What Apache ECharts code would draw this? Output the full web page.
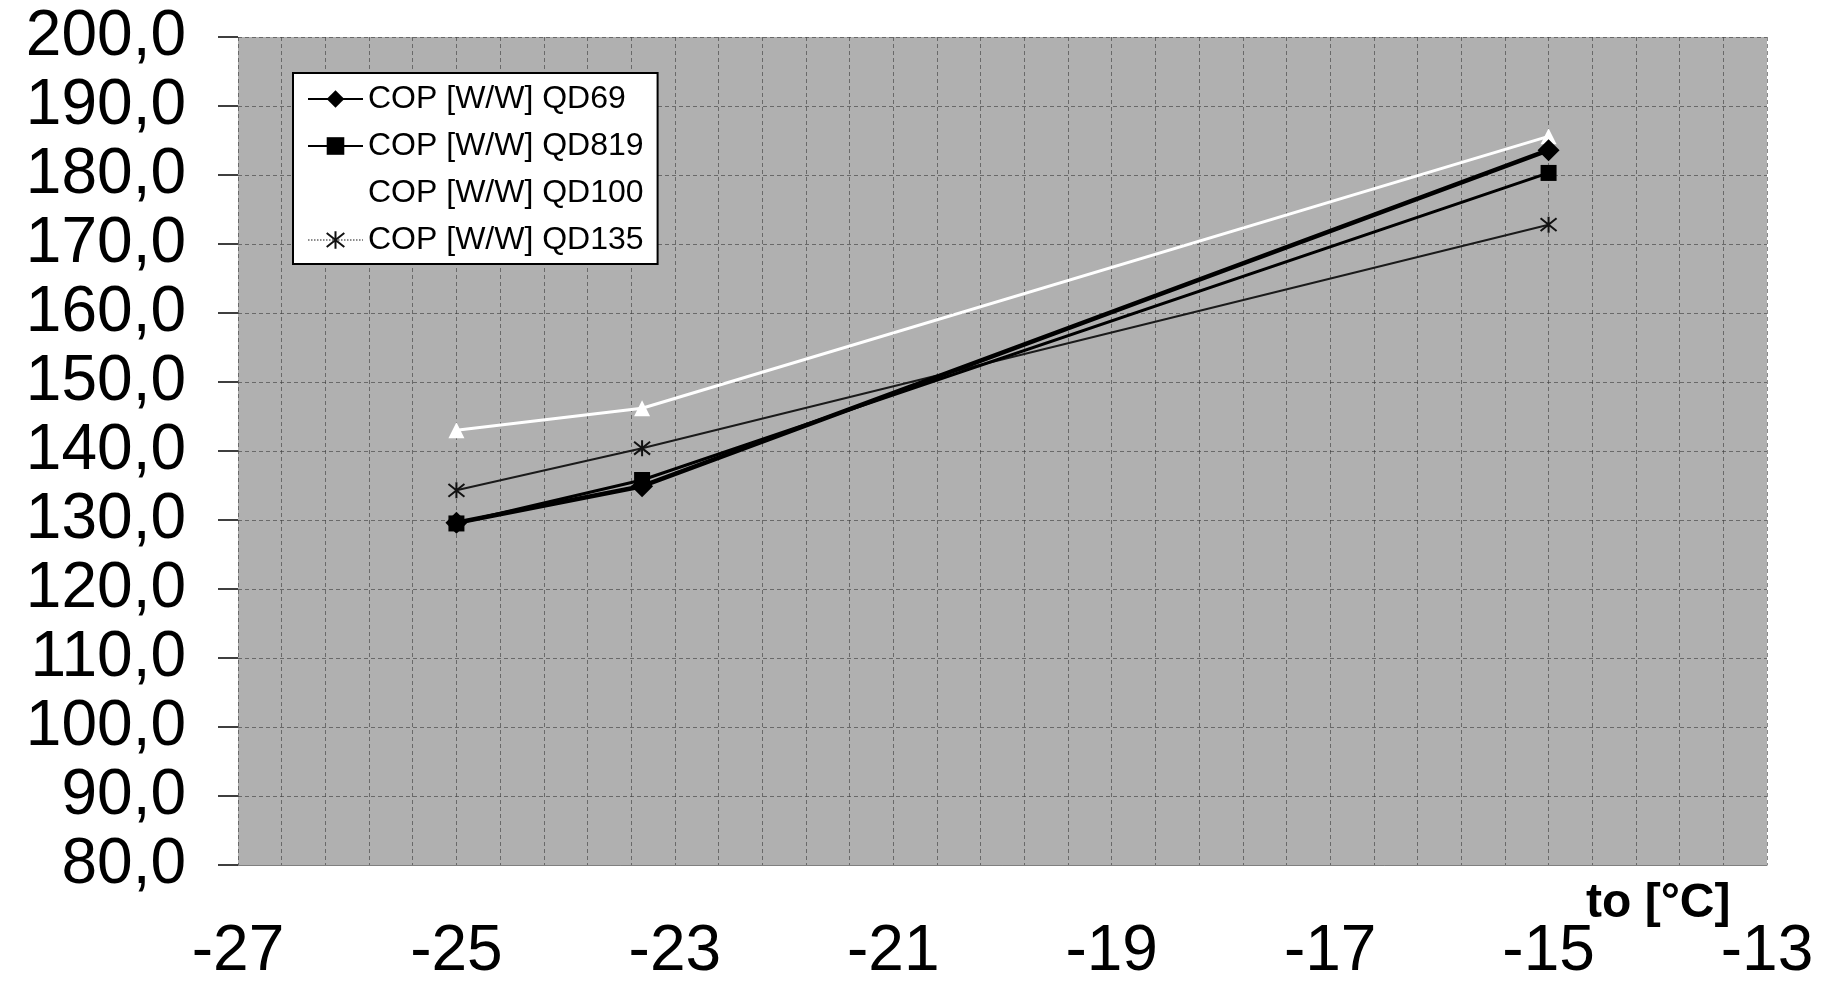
<!doctype html>
<html>
	<head>
		<meta charset="UTF-8">
		<title>COP</title>
		<style type="text/css">
			html, body {
				margin: 0;
				padding: 0;
				background: #fff;
			}
			#main {
				width: 1823px;
				height: 984px;
			}
		</style>
	</head>
	<body>
		<div id="main"></div>
		<script src="https://cdn.jsdelivr.net/npm/echarts@6/dist/echarts.min.js"></script>
		<script type="text/javascript">
			// to [°C]
			var xTo = [-25, -23.3, -15];
			// COP [W/W]
			var qd69 = [129.6, 134.9, 183.6];
			var qd819 = [129.5, 135.8, 180.3];
			var qd100 = [143.0, 146.2, 185.6];
			var qd135 = [134.3, 140.4, 172.8];
			var names = ['COP [W/W] QD69', 'COP [W/W] QD819', 'COP [W/W] QD100', 'COP [W/W] QD135'];

			var font = "'Liberation Sans', Arial, sans-serif";
			// asterisk marker
			var star = 'path://M1,1L9,9M9,1L1,9M5,0L5,10';

			function pairs(ys) {
				var out = [];
				for (var i = 0; i < xTo.length; i++) {
					out.push([xTo[i], ys[i]]);
				}
				return out;
			}

			var gridLine = {
				show: true,
				lineStyle: {
					color: '#3a3a3a',
					width: 1,
					type: [4, 3],
					opacity: 0.6
				}
			};

			var myChart = echarts.init(document.getElementById('main'));
			var option = {
				animation: false,
				backgroundColor: '#fff',
				textStyle: {
					fontFamily: font
				},
				title: {
					text: 'to [°C]',
					left: 1586,
					top: 880,
					padding: 0,
					textStyle: {
						fontSize: 48,
						fontWeight: 'bold',
						lineHeight: 48,
						color: '#000',
						fontFamily: font
					}
				},
				grid: {
					left: 238,
					right: 56,
					top: 37,
					bottom: 119,
					outerBoundsMode: 'none',
					containLabel: false,
					show: true,
					backgroundColor: '#b0b0b0',
					borderWidth: 0
				},
				legend: {
					orient: 'vertical',
					left: 293,
					top: 73,
					padding: [8, 14, 6, 14],
					backgroundColor: '#fff',
					borderColor: '#000',
					borderWidth: 2,
					borderRadius: 0,
					itemWidth: 55,
					itemHeight: 22,
					itemGap: 11,
					selectedMode: false,
					textStyle: {
						fontSize: 32,
						lineHeight: 36,
						color: '#000',
						fontFamily: font
					},
					data: [
						{name: names[0], lineStyle: {width: 2}},
						{name: names[1], lineStyle: {width: 2}},
						{name: names[2], lineStyle: {width: 2}},
						{name: names[3], lineStyle: {width: 1.5, type: 'dotted', color: '#666'}}
					]
				},
				xAxis: {
					type: 'value',
					min: -27,
					max: -13,
					interval: 2,
					axisLine: {
						show: true,
						onZero: false,
						lineStyle: {color: '#808080', width: 1}
					},
					axisTick: {show: false},
					axisLabel: {
						fontSize: 64,
						lineHeight: 64,
						color: '#000',
						margin: 55,
						fontFamily: font
					},
					splitLine: gridLine,
					minorTick: {show: false, splitNumber: 5},
					minorSplitLine: gridLine
				},
				yAxis: {
					type: 'value',
					min: 80,
					max: 200,
					interval: 10,
					axisLine: {show: false},
					axisTick: {
						show: true,
						inside: false,
						length: 20,
						lineStyle: {color: '#000', width: 1.5}
					},
					axisLabel: {
						fontSize: 64,
						color: '#000',
						margin: 52,
						fontFamily: font,
						formatter: function (v) {
							return v.toFixed(1).replace('.', ',');
						}
					},
					splitLine: gridLine
				},
				series: [
					{
						name: names[3],
						type: 'line',
						data: pairs(qd135),
						symbol: star,
						symbolSize: 16,
						showAllSymbol: true,
						itemStyle: {color: '#111', borderColor: '#111', borderWidth: 2},
						lineStyle: {color: '#1a1a1a', width: 2}
					},
					{
						name: names[2],
						type: 'line',
						data: pairs(qd100),
						symbol: 'triangle',
						symbolSize: 16,
						itemStyle: {color: '#fff', borderWidth: 0},
						lineStyle: {color: '#fff', width: 3}
					},
					{
						name: names[0],
						type: 'line',
						data: pairs(qd69),
						symbol: 'diamond',
						symbolSize: 22,
						itemStyle: {color: '#000', borderWidth: 0},
						lineStyle: {color: '#000', width: 4.5}
					},
					{
						name: names[1],
						type: 'line',
						data: pairs(qd819),
						symbol: 'rect',
						symbolSize: 16,
						itemStyle: {color: '#000', borderWidth: 0},
						lineStyle: {color: '#000', width: 3}
					}
				]
			};
			myChart.setOption(option);
		</script>
	</body>
</html>
